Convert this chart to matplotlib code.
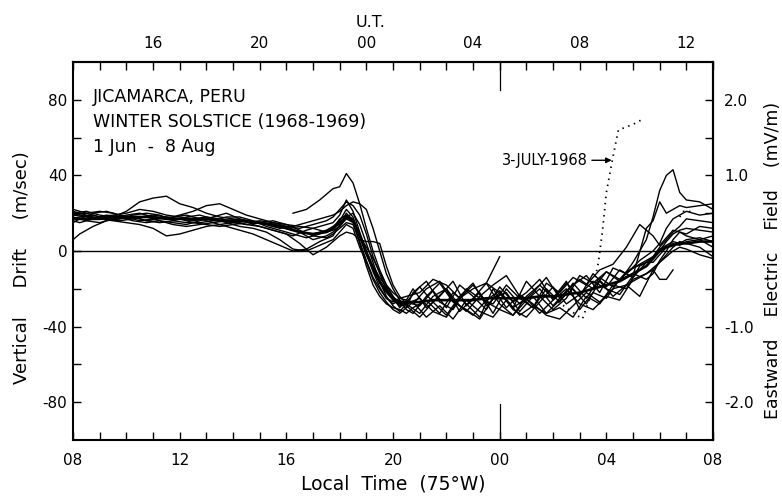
import numpy as np
import matplotlib
matplotlib.use("Agg")
import matplotlib.pyplot as plt

plt.rcParams['font.family'] = ['DejaVu Sans']
plt.rcParams['axes.unicode_minus'] = False

nan = np.nan

# Local time grids (hours, 24+ = next day); grid B samples the night at offset times
local_time_a = [8.0, 8.5, 9.0, 9.5, 10.0, 10.5, 11.0, 11.5, 12.0, 12.5, 13.0, 13.5, 14.0, 14.5,
                15.0, 15.5, 16.0, 16.5, 17.0, 17.5,
                17.75, 18.0, 18.25, 18.5, 18.75, 19.0, 19.25, 19.5, 19.75, 20.0, 20.25, 20.5,
                21.0, 21.5, 22.0, 22.5, 23.0, 23.5, 24.0, 24.5, 25.0, 25.5, 26.0, 26.5, 27.0,
                27.5, 28.0, 28.5, 29.0, 29.5,
                29.75, 30.0, 30.25, 30.5, 30.75, 31.0, 31.5, 32.0]
local_time_b = [8.0, 8.25, 8.75, 9.25, 9.75, 10.25, 10.75, 11.25, 11.75, 12.25, 12.75, 13.25, 13.75, 14.25,
                14.75, 15.25, 15.75, 16.25, 16.75, 17.25,
                17.75, 18.0, 18.25, 18.5, 18.75, 19.0, 19.25, 19.5, 19.75, 20.0, 20.25, 20.5,
                20.75, 21.25, 21.75, 22.25, 22.75, 23.25, 23.75, 24.25, 24.75, 25.25, 25.75, 26.25, 26.75,
                27.25, 27.75, 28.25, 28.75, 29.25,
                29.75, 30.0, 30.25, 30.5, 30.75, 31.0, 31.5, 32.0]

# Vertical drift (m/s), one list per day
day_01 = [20, 21, 19, 18, 17, 18, 19, 18, 17, 16, 17, 16, 15, 16, 15, 13, 12, 10, 9, 11,
          13, 16, 22, 18, 8, -2, -10, -17, -22, -26, -28, -27,
          -29, -21, -30, -18, -24, -31, -19, -27, -22, -15, -26, -17, -24, -12, -19, -10, -14, -6,
          -6, -2, 2, 4, 3, 5, 6, 8]
day_02 = [15, 17, 20, 21, 19, 18, 16, 17, 18, 19, 17, 15, 16, 17, 14, 12, 10, 8, 11, 13,
          15, 19, 27, 21, 10, 0, -8, -14, -19, -24, -30, -26,
          -20, -30, -24, -16, -29, -22, -33, -20, -28, -22, -14, -25, -18, -13, -22, -9, -12, -5,
          0, 4, 12, 17, 19, 21, 19, 20]
day_03 = [22, 20, 18, 19, 20, 22, 21, 19, 18, 17, 18, 17, 16, 14, 15, 16, 14, 11, 8, 7,
          9, 12, 15, 14, 5, -5, -14, -20, -25, -28, -26, -29,
          -35, -27, -20, -32, -25, -17, -28, -34, -26, -20, -29, -21, -15, -20, -11, -16, -6, 6,
          18, 32, 40, 43, 31, 27, 26, 22]
day_04 = [6, 9, 13, 16, 17, 18, 16, 15, 16, 18, 19, 17, 15, 13, 12, 10, 6, 1, 0, 3,
          6, 10, 14, 12, 2, -6, -15, -22, -27, -31, -33, -30,
          -27, -35, -29, -36, -26, -32, -35, -26, -34, -29, -33, -30, -35, -24, -28, -18, -20, -8,
          -4, 0, 5, 9, 11, 12, 11, 10]
day_05 = [nan, nan, nan, nan, nan, nan, nan, nan, nan, nan, nan, nan, nan, nan, nan, nan, nan, 20, 22, 27,
          33, 34, 41, 36, 25, 12, 0, -10, -18, -24, -28, -30,
          -22, -16, -27, -31, -20, -25, -28, -18, -25, -30, -20, -27, -17, -25, -14, -19, -11, -7,
          -3, 2, 6, 10, 13, 17, 16, 15]
day_06 = [19, 18, 17, 18, 21, 26, 28, 29, 25, 23, 20, 18, 17, 16, 15, 14, 13, 12, 14, 16,
          18, 22, 26, 24, 19, 9, -3, -12, -20, -26, -29, -27,
          -19, -27, -34, -24, -17, -29, -22, -31, -35, -27, -19, -28, -23, -16, -20, -23, -13, 12,
          16, 26, 20, 22, 24, 23, 24, 25]
day_07 = [21, 19, 17, 16, 15, 14, 12, 8, 9, 11, 13, 14, 15, 14, 13, 11, 9, 4, -2, 2,
          5, 8, 10, 9, 6, 5, 5, 4, -8, -18, -24, -28,
          -33, -24, -20, -29, -34, -26, -21, -30, -25, -33, -26, -20, -28, -31, -24, -26, -15, -12,
          -9, -6, -2, 2, 5, 4, 2, -3]
day_08 = [17, 18, 19, 17, 16, 17, 18, 16, 14, 13, 14, 15, 13, 11, 9, 6, 3, 0, 1, 5,
          8, 14, 20, 16, 4, -8, -18, -24, -28, -30, -31, -33,
          -30, -26, -33, -22, -28, -35, -20, -30, -23, -28, -34, -36, -29, -22, -27, -20, -18, -24,
          -10, -15, -15, -10, nan, nan, nan, nan]
day_09 = [18, 16, 15, 17, 19, 20, 18, 17, 19, 21, 24, 25, 22, 19, 17, 15, 14, 13, 12, 10,
          11, 13, 17, 15, 8, 2, -4, -11, -18, -22, -25, -24,
          -22, -15, -18, -25, -20, -17, -3, nan, nan, nan, nan, nan, nan, nan, nan, nan, nan, nan,
          nan, nan, nan, nan, nan, nan, nan, nan]
day_10 = [16, 15, 17, 19, 18, 16, 15, 16, 15, 14, 16, 18, 20, 17, 15, 14, 12, 13, 15, 17,
          19, 21, 24, 26, 25, 22, 12, 0, -12, -20, -26, -31,
          -33, -24, -17, -27, -31, -36, -25, -22, -32, -24, -33, -26, -20, -28, -16, -24, -18, -14,
          -10, -6, -3, 0, 2, 1, -2, -4]
day_11 = [19, 20, 21, 20, 18, 16, 17, 18, 17, 15, 14, 13, 14, 15, 16, 15, 13, 10, 6, 8,
          10, 13, 18, 20, 14, 4, -6, -16, -24, -29, -32, -28,
          -25, -32, -35, -25, -18, -27, -31, -34, -24, -18, -25, -16, -31, -22, -25, -15, -12, -15,
          -12, -5, 0, 6, 10, 9, 13, 12]
day_12 = [20, 19, 18, 17, 17, 19, 20, 19, 16, 15, 15, 16, 18, 18, 16, 13, 11, 9, 7, 9,
          12, 17, 19, 17, 9, -1, -11, -19, -25, -27, -25, -26,
          -28, -20, -16, -26, -32, -24, -18, -13, -24, -30, -17, -22, -14, -18, -10, -7, 2, 14,
          8, 3, 7, 11, 10, 8, 6, 2]
day_13 = [nan, nan, nan, nan, nan, nan, nan, nan, nan, nan, nan, nan, nan, nan, nan, nan, nan, nan, nan, nan,
          nan, nan, nan, nan, nan, nan, nan, nan, nan, nan, nan, nan,
          nan, nan, nan, nan, nan, -17, -22, -30, -16, -24, -31, -25, -13, -17, -11, -15, -9, -6,
          -3, 1, 3, 5, 4, 6, 7, 5]
heavy_curve = [17, 17, 17, 18, 18, 18, 18, 17, 17, 17, 17, 16, 16, 16, 15, 14, 12, 10, 9, 10,
               12, 15, 18, 16, 8, -1, -9, -16, -21, -25, -27, -27,
               -27, -26, -26, -26, -26, -25, -25, -25, -25, -24, -24, -23, -22, -20, -18, -16, -12, -8,
               -4, 0, 2, 3, 4, 4, 5, 5]

# 3 July 1968 (dotted)
july3_time = [26.0, 26.5, 27.1, 27.5, 27.7, 27.85, 28.0, 28.25, 28.45, 29.0, 29.4, nan,
              30.75, 30.9, 31.1, 31.3]
july3_drift = [-25, -30, -36, -20, -6, 10, 31, 50, 64, 67, 70, nan,
               18, 21, 21, 20]

days_grid_a = [day_01, day_03, day_06, day_07, day_09, day_11, day_13]
days_grid_b = [day_02, day_04, day_05, day_08, day_10, day_12]

bottom_ticks = [8, 12, 16, 20, 24, 28, 32]
bottom_labels = ['08', '12', '16', '20', '00', '04', '08']
ut_ticks = [16, 20, 24, 28, 32, 36]
ut_labels = ['16', '20', '00', '04', '08', '12']
drift_ticks = [-80, -40, 0, 40, 80]
field_ticks = [-2.0, -1.0, 1.0, 2.0]
field_labels = ['-2.0', '-1.0', '1.0', '2.0']

fig = plt.figure(figsize=(7.82, 4.96), dpi=100)
ax = fig.add_axes([0.0934, 0.1129, 0.8184, 0.7621])

ta = np.array(local_time_a)
tb = np.array(local_time_b)
for d in days_grid_a:
    ax.plot(ta, np.array(d, dtype=float), color='black', lw=1.0)
for d in days_grid_b:
    ax.plot(tb, np.array(d, dtype=float), color='black', lw=1.0)
ax.plot(ta, np.array(heavy_curve, dtype=float), color='black', lw=1.9)
ax.plot(july3_time, july3_drift, color='black', lw=1.3, linestyle=(0, (0.8, 2.6)))

ax.axhline(0, color='black', lw=1.0)
ax.axvline(24, ymin=0, ymax=0.095, color='black', lw=0.9)
ax.axvline(24, ymin=0.925, ymax=1.0, color='black', lw=0.9)

ax.set_xlim(8, 32)
ax.set_ylim(-100, 100)
ax.set_xticks(bottom_ticks)
ax.set_xticklabels(bottom_labels)
ax.set_xticks(np.arange(8, 33, 1), minor=True)
ax.set_yticks(drift_ticks)
ax.set_yticks([-60, -20, 20, 60], minor=True)
ax.tick_params(axis='both', which='both', direction='in', length=6, width=1.0,
               labelsize=11)
ax.tick_params(axis='x', pad=9)
ax.tick_params(axis='y', pad=4)
for s in ax.spines.values():
    s.set_linewidth(1.5)

top = ax.secondary_xaxis('top', functions=(lambda x: x + 5, lambda x: x - 5))
top.set_xticks(ut_ticks)
top.set_xticklabels(ut_labels)
top.set_xticks(np.arange(13, 38, 1), minor=True)
top.tick_params(which='both', direction='in', length=6, width=1.0, labelsize=11, pad=8)
top.spines['top'].set_linewidth(1.5)

right = ax.secondary_yaxis('right', functions=(lambda v: v / 40.0, lambda e: e * 40.0))
right.set_yticks(field_ticks)
right.set_yticklabels(field_labels)
right.set_yticks([-1.5, -0.5, 0, 0.5, 1.5], minor=True)
right.tick_params(which='both', direction='in', length=6, width=1.0, labelsize=11, pad=8)
right.spines['right'].set_linewidth(1.5)

ax.set_xlabel('Local  Time  (75°W)', fontsize=13.5, labelpad=5)
ax.set_ylabel('Vertical     Drift     (m/sec)', fontsize=13)
ax.yaxis.set_label_coords(-0.066, 0.455)
fig.text(0.989, 0.474, 'Eastward    Electric    Field    (mV/m)', rotation=90,
         fontsize=12.5, ha='center', va='center')
fig.text(0.474, 0.955, 'U.T.', fontsize=11.5, ha='center', va='center')

ax.text(0.031, 0.93, 'JICAMARCA, PERU', transform=ax.transAxes, fontsize=12.5, va='top')
ax.text(0.031, 0.865, 'WINTER SOLSTICE (1968-1969)', transform=ax.transAxes, fontsize=12.5, va='top')
ax.text(0.031, 0.80, '1 Jun  -  8 Aug', transform=ax.transAxes, fontsize=12.5, va='top')

ax.annotate('3-JULY-1968', xy=(28.2, 48), xytext=(27.3, 48), fontsize=10.5,
            ha='right', va='center',
            arrowprops=dict(arrowstyle='-|>', color='black', lw=1.0, mutation_scale=8,
                            shrinkA=1, shrinkB=0))

fig.savefig('out.png', dpi=100, facecolor='white')
